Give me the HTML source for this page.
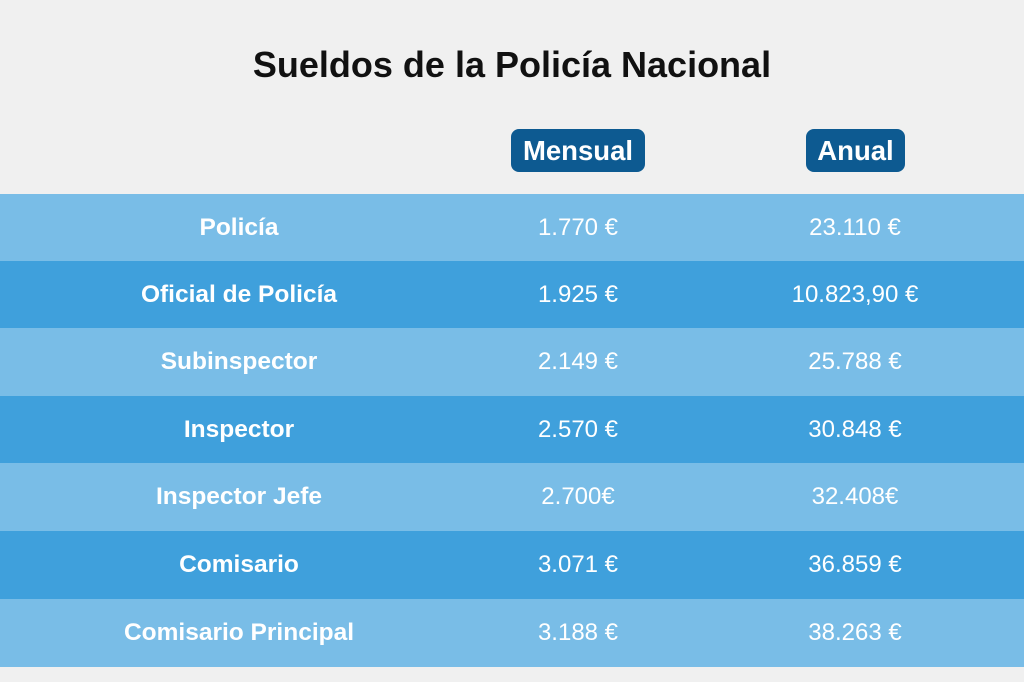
<!DOCTYPE html>
<html><head><meta charset="utf-8"><style>
body{margin:0;width:1024px;height:682px;background:#f0f0f0;font-family:"Liberation Sans",sans-serif;position:relative;overflow:hidden}
.t{position:absolute;top:44px;left:0;width:1024px;text-align:center;font-weight:bold;font-size:36px;color:#111}
.b{position:absolute;top:129px;height:43px;background:#0d5a91;border-radius:8px;color:#fff;font-weight:bold;font-size:27.5px;line-height:43px;text-align:center}
.r{position:absolute;left:0;width:1024px;height:68px;color:#fff;font-size:24px;line-height:68px}
.r span{position:absolute;top:0;text-align:center;width:300px}
.a{left:89px;font-weight:bold;font-size:24.5px}.m{left:428px}.n{left:705px}
.l{background:#79bde7}.d{background:#3fa0dc}
</style></head><body>
<div class="t">Sueldos de la Policía Nacional</div>
<div class="b" style="left:511px;width:134px">Mensual</div>
<div class="b" style="left:806px;width:99px">Anual</div>
<div class="r l" style="top:194px"><span class="a">Policía</span><span class="m">1.770 €</span><span class="n">23.110 €</span></div>
<div class="r d" style="top:261px;height:67px"><span class="a">Oficial de Policía</span><span class="m">1.925 €</span><span class="n">10.823,90 €</span></div>
<div class="r l" style="top:328px"><span class="a">Subinspector</span><span class="m">2.149 €</span><span class="n">25.788 €</span></div>
<div class="r d" style="top:396px;height:67px"><span class="a">Inspector</span><span class="m">2.570 €</span><span class="n">30.848 €</span></div>
<div class="r l" style="top:463px"><span class="a">Inspector Jefe</span><span class="m">2.700€</span><span class="n">32.408€</span></div>
<div class="r d" style="top:531px"><span class="a">Comisario</span><span class="m">3.071 €</span><span class="n">36.859 €</span></div>
<div class="r l" style="top:599px"><span class="a">Comisario Principal</span><span class="m">3.188 €</span><span class="n">38.263 €</span></div>
</body></html>
